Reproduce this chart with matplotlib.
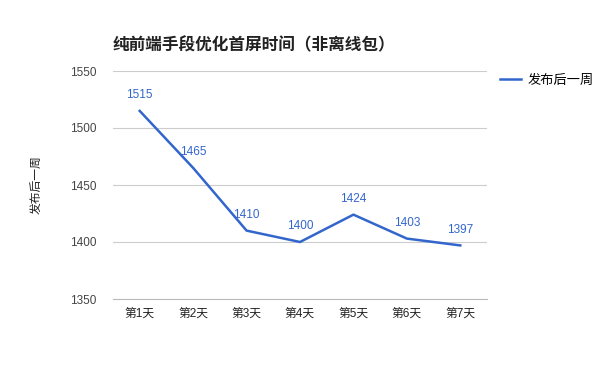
import matplotlib
matplotlib.use("Agg")
import matplotlib.pyplot as plt

plt.rcParams['font.family'] = ['Liberation Sans', 'Noto Sans CJK SC', 'DejaVu Sans']

categories = ['第1天', '第2天', '第3天', '第4天', '第5天', '第6天', '第7天']
values = [1515, 1465, 1410, 1400, 1424, 1403, 1397]
series_name = '发布后一周'
title = '纯前端手段优化首屏时间（非离线包）'
yticks = [1350, 1400, 1450, 1500, 1550]

color = '#3366cc'
fig = plt.figure(figsize=(6, 3.71), dpi=100)
ax = fig.add_axes([113/600, 1-299/371, (487-113)/600, (299-71)/371])

x = list(range(len(categories)))
ax.plot(x, values, color=color, lw=1.8, label=series_name)
for xi, v in zip(x, values):
    ax.annotate(str(v), (xi, v), xytext=(0, 7), textcoords='offset points',
                ha='center', va='bottom', color=color, fontsize=8.5)

ax.set_xlim(-0.5, len(categories) - 0.5)
ax.set_ylim(yticks[0], yticks[-1])
ax.set_yticks(yticks)
ax.set_xticks(x)
ax.set_xticklabels(categories)
ax.grid(axis='y', color='#cccccc', lw=0.8)
ax.set_axisbelow(True)
for s in ['top', 'right', 'left']:
    ax.spines[s].set_visible(False)
ax.spines['bottom'].set_color('#bbbbbb')
ax.spines['bottom'].set_linewidth(0.8)
ax.tick_params(axis='both', length=0, labelsize=8.5, colors='#222222', pad=6)
ax.tick_params(axis='y', colors='#444444', pad=12)

fig.text(37/600, 1-185/371, series_name, rotation=90, style='italic',
         ha='center', va='center', fontsize=8.5, color='#222222')
fig.text(113/600, 1-45/371, title, fontsize=12, fontweight='bold',
         ha='left', va='center', color='#222222')

fig.legend(loc='upper left', bbox_to_anchor=(488/600, 1-63/371), frameon=False,
           fontsize=9.5, handlelength=1.6, handletextpad=0.5)

fig.savefig('out.png', dpi=100)
